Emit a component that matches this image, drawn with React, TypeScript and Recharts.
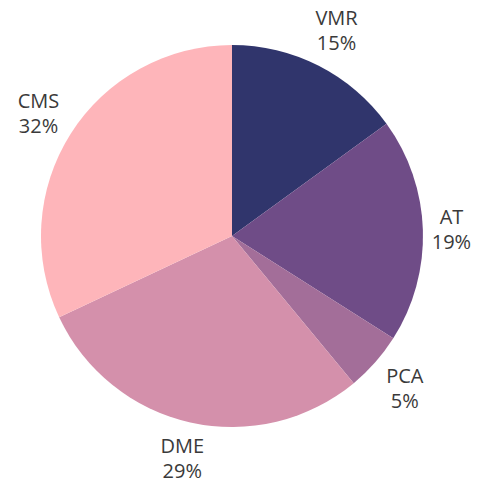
import { Cell, Pie, PieChart } from "recharts";

const categories = ["VMR", "AT", "PCA", "DME", "CMS"];
const shares = [15, 19, 5, 29, 32];
const colors = ["#30356c", "#6f4c87", "#a36e99", "#d490ab", "#feb5ba"];

const data = categories.map((name, i) => ({ name, value: shares[i] }));

const RAD = Math.PI / 180;
const FONT = 20;
const LINE = 25;

function SliceLabel(props: any) {
  const { cx, cy, midAngle, outerRadius, name, value } = props;
  const pct = `${value}%`;
  const chars = Math.max(String(name).length, pct.length);
  const hw = chars * 6.6;
  const hh = LINE;
  const dx = Math.cos(-midAngle * RAD);
  const dy = Math.sin(-midAngle * RAD);
  const r = outerRadius + 8 + hw * Math.abs(dx) + hh * Math.abs(dy);
  const x = cx + r * dx;
  const y = cy + r * dy;
  return (
    <text
      x={x}
      y={y}
      textAnchor="middle"
      fill="#3a3a3a"
      fontSize={FONT}
      fontFamily="'Open Sans', sans-serif"
    >
      <tspan x={x} dy={-LINE / 2 + 7}>
        {name}
      </tspan>
      <tspan x={x} dy={LINE}>
        {pct}
      </tspan>
    </text>
  );
}

export default function App() {
  return (
    <div style={{ position: "absolute", left: 0, top: 0, background: "#fff" }}>
      <PieChart width={483} height={481} margin={{ top: 0, right: 0, bottom: 0, left: 0 }}>
        <Pie
          data={data}
          dataKey="value"
          nameKey="name"
          cx={232}
          cy={236}
          outerRadius={191}
          startAngle={90}
          endAngle={-270}
          stroke="none"
          label={SliceLabel}
          labelLine={false}
          isAnimationActive={false}
        >
          {data.map((d, i) => (
            <Cell key={d.name} fill={colors[i]} />
          ))}
        </Pie>
      </PieChart>
    </div>
  );
}
